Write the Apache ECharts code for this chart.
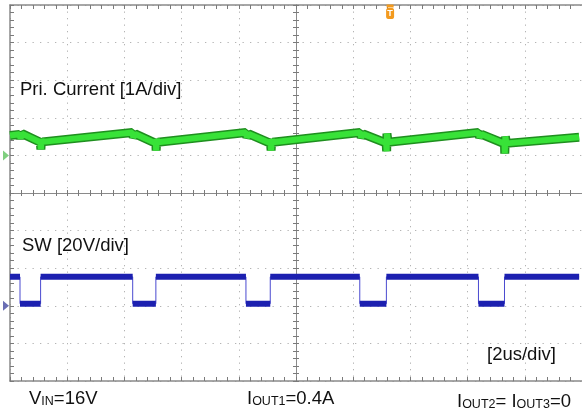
<!DOCTYPE html>
<html>
<head>
<meta charset="utf-8">
<script src="https://cdn.jsdelivr.net/npm/echarts@6/dist/echarts.min.js"></script>
<style>
html, body {margin: 0; padding: 0; background: #fff;}
#chart {width: 582px; height: 416px;}
</style>
</head>
<body>
<div id="chart"></div>
<script>
// scope screen: 10 x 10 divisions, 2 us/div, time 0 = screen centre
const timeMin = -10;
const timeMax = 10;
const divMin = -5;
const divMax = 5;

// SW node (20 V/div, ground 3 div below centre): fall / rise edge times in us
const swEdges = [-9.65, -8.93, -5.71, -4.90, -1.75, -0.90, 2.23, 3.16, 6.38, 7.29];
const swHigh = 15.4;
const swLow = 1.1;
const traceEnd = 9.9;

// primary current (1 A/div, ground 1 div above centre)
const currentTime = [
    -10, -9.67, -9.63, -9.58, -8.94, -8.92, -8.90, -8.87,
    -5.72, -5.69, -5.62, -4.90, -4.89, -4.87, -4.83,
    -1.75, -1.72, -1.65, -0.89, -0.87, -0.85, -0.82,
    2.24, 2.28, 2.35, 3.15, 3.17, 3.18, 3.22,
    6.38, 6.42, 6.49, 7.29, 7.30, 7.32, 7.36,
    9.9
];
const currentAmps = [
    0.53, 0.56, 0.45, 0.58, 0.35, 0.16, 0.43, 0.36,
    0.61, 0.48, 0.57, 0.32, 0.13, 0.43, 0.35,
    0.61, 0.48, 0.57, 0.32, 0.13, 0.43, 0.35,
    0.61, 0.48, 0.57, 0.33, 0.11, 0.58, 0.35,
    0.61, 0.48, 0.56, 0.31, 0.05, 0.50, 0.32,
    0.48
];

const triggerTime = 3.29;
const currentTop = 4;

const chart = echarts.init(document.getElementById("chart"));

const frameColor = "#8a8a8a";
const tickColor = "#7a7a7a";
const dotColor = "#b4b4b4";
const orange = "#f39a1e";
const font = "'Liberation Sans', Arial, sans-serif";

// thin full step waveform + thick level segments (edges stay thin like on the scope)
const swThin = [[timeMin, swHigh]];
const swThick = [[timeMin, swHigh]];
for (let i = 0; i < swEdges.length; i += 2) {
    const fall = swEdges[i];
    const rise = swEdges[i + 1];
    swThin.push([fall, swHigh], [fall, swLow], [rise, swLow], [rise, swHigh]);
    swThick.push([fall, swHigh], [fall, "-"], [fall, swLow], [rise, swLow], [rise, "-"], [rise, swHigh]);
}
swThin.push([traceEnd, swHigh]);
swThick.push([traceEnd, swHigh]);

const currentData = currentTime.map((t, i) => [t, currentAmps[i]]);

// graticule lives in grid 0, the traces in grid 1 (same rectangle)
const xRange = {type: "value", gridIndex: 0, min: timeMin, max: timeMax, interval: 2, axisLabel: {show: false}};
const yRange = {type: "value", gridIndex: 0, min: divMin, max: divMax, interval: 1, axisLabel: {show: false}};

function ticks(inside, len, minorLen) {
    return {
        axisTick: {show: true, inside, length: len, lineStyle: {color: tickColor}},
        minorTick: {show: true, splitNumber: 5, length: minorLen, lineStyle: {color: tickColor}}
    };
}

function edgeLine(width) {
    return {show: true, onZero: false, lineStyle: {color: frameColor, width}};
}

function centreLine() {
    return {show: true, onZero: true, onZeroAxisIndex: 0, lineStyle: {color: frameColor, width: 1}};
}

const rich = {
    m: {fontSize: 18.5, fontFamily: font, fontWeight: "normal", verticalAlign: "bottom", color: "#111"},
    s: {fontSize: 12.5, fontFamily: font, fontWeight: "normal", verticalAlign: "bottom", color: "#111"}
};

function caption(text, left, top) {
    return {
        text, left, top, padding: 0,
        textStyle: {fontSize: 18.5, fontFamily: font, fontWeight: "normal", color: "#111", rich}
    };
}

chart.setOption({
    animation: false,
    title: [
        caption("{m|Pri. Current [1A/div]}", 20, 80.5),
        caption("{m|SW [20V/div]}", 22, 236.5),
        caption("{m|[2us/div]}", 487, 345.5),
        caption("{m|V}{s|IN}{m|=16V}", 29, 389.5),
        caption("{m|I}{s|OUT1}{m|=0.4A}", 247, 389.5),
        caption("{m|I}{s|OUT2}{m|= I}{s|OUT3}{m|=0}", 457, 392.5)
    ],
    grid: [
        {left: 10, top: 5, width: 575, height: 376},
        {left: 10, top: 5, width: 575, height: 376}
    ],
    xAxis: [
        Object.assign({}, xRange, ticks(true, 4, 4), {
            position: "bottom",
            axisLine: edgeLine(1.5),
            splitLine: {show: true, lineStyle: {color: dotColor, type: [1.3, 5.2]}}
        }),
        Object.assign({}, xRange, ticks(true, 4, 4), {
            position: "top",
            axisLine: edgeLine(1.5),
            splitLine: {show: false}
        }),
        Object.assign({}, xRange, ticks(true, 3, 3), {
            position: "bottom",
            axisLine: centreLine(),
            splitLine: {show: false}
        }),
        Object.assign({}, xRange, ticks(false, 3, 3), {
            position: "bottom",
            axisLine: centreLine(),
            splitLine: {show: false}
        }),
        {type: "value", gridIndex: 1, min: timeMin, max: timeMax, show: false}
    ],
    yAxis: [
        Object.assign({}, yRange, ticks(true, 4, 4), {
            position: "left",
            axisLine: edgeLine(1.5),
            splitLine: {show: true, lineStyle: {color: dotColor, type: [1.3, 6.2]}}
        }),
        Object.assign({}, yRange, ticks(true, 3, 3), {
            position: "left",
            axisLine: centreLine(),
            splitLine: {show: false}
        }),
        Object.assign({}, yRange, ticks(false, 3, 3), {
            position: "left",
            axisLine: centreLine(),
            splitLine: {show: false}
        }),
        {type: "value", gridIndex: 1, min: -6, max: currentTop, show: false},
        {type: "value", gridIndex: 1, min: -40, max: 160, show: false}
    ],
    series: [
        {
            type: "line", xAxisIndex: 4, yAxisIndex: 4, data: swThin,
            showSymbol: false, symbol: "none",
            lineStyle: {color: "#4a4ad0", width: 1},
            // SW ground marker
            markPoint: {
                silent: true,
                label: {show: false},
                data: [{
                    coord: [timeMin, 0], symbol: "triangle", symbolRotate: -90,
                    symbolSize: [10, 6], symbolOffset: [-4, 0], itemStyle: {color: "#6a6eb4"}
                }]
            }
        },
        {
            type: "line", xAxisIndex: 4, yAxisIndex: 4, data: swThick,
            showSymbol: false, symbol: "none", connectNulls: false,
            lineStyle: {color: "#1c20b0", width: 6}
        },
        {
            type: "line", xAxisIndex: 4, yAxisIndex: 3, data: currentData,
            showSymbol: false, symbol: "none",
            lineStyle: {color: "#1f8f1f", width: 9}
        },
        {
            type: "line", xAxisIndex: 4, yAxisIndex: 3, data: currentData,
            showSymbol: false, symbol: "none",
            lineStyle: {color: "#38e238", width: 6},
            // current ground marker and trigger marker
            markPoint: {
                silent: true,
                label: {show: false},
                data: [
                    {
                        coord: [timeMin, 0], symbol: "triangle", symbolRotate: -90,
                        symbolSize: [10, 6], symbolOffset: [-4, 0], itemStyle: {color: "#7fcf7f"}
                    },
                    {
                        coord: [triggerTime, currentTop], symbol: "rect",
                        symbolSize: [7, 3], symbolOffset: [0, 1], itemStyle: {color: orange}
                    },
                    {
                        coord: [triggerTime, currentTop], symbol: "roundRect",
                        symbolSize: [8, 11], symbolOffset: [0, 8.5], itemStyle: {color: orange},
                        label: {
                            show: true, position: "inside", formatter: "T",
                            color: "#fff", fontSize: 9, fontWeight: "bold", fontFamily: font
                        }
                    }
                ]
            }
        }
    ]
});

window.addEventListener("resize", () => chart.resize());
</script>
</body>
</html>
